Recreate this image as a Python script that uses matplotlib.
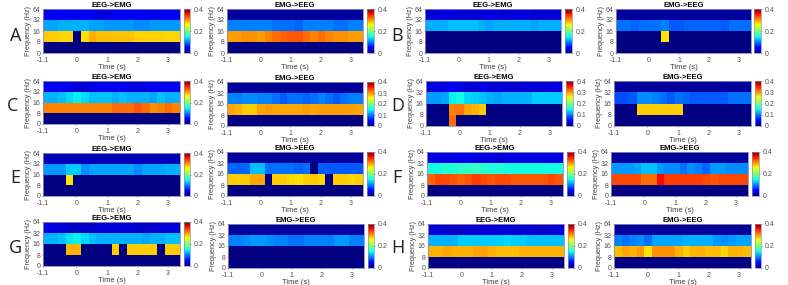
import numpy as np
import matplotlib
matplotlib.use('Agg')
import matplotlib.pyplot as plt

plt.rcParams['font.family'] = ['Liberation Sans', 'DejaVu Sans']

W, H = 788, 285

# time bin edges and frequency labels shared by all panels
time_edges = [-1.1, -0.85, -0.6, -0.35, -0.1, 0.15, 0.4, 0.65, 0.9, 1.15, 1.4, 1.65, 1.9, 2.15, 2.4, 2.65, 2.9, 3.15, 3.4]
time_ticks = [-1.1, 0, 1, 2, 3]
time_labels = ['-1.1', '0', '1', '2', '3']
freq_labels = ['0', '8', '16', '32', '64']
zeros = [0] * 18

# rows of each panel, low frequency first: 0-8, 8-16, 16-32, 32-64
a_l_band = [.278, .278, .272, .272, 0, .27, .29, .284, .284, .28, .28, .28, .274, .274, .274, .274, .272, .272]
a_l_mid = [.115, .115, .12, .12, .12, .12, .115, .115, .11, .11, .11, .11, .105, .105, .11, .11, .11, .11]
a_l_top = [.04, .04, .045, .04, .04, .04, .04, .035, .035, .04, .04, .04, .04, .04, .035, .04, .04, .04]
a_r_band = [.298, .298, .303, .303, .298, .308, .318, .323, .328, .328, .318, .308, .318, .308, .303, .303, .298, .298]
a_r_mid = [.10, .10, .10, .10, .10, .10, .095, .095, .095, .09, .10, .10, .10, .10, .095, .095, .10, .10]
a_r_top = [.01] * 18

b_l_band = zeros
b_l_mid = [.12, .12, .12, .125, .125, .125, .125, .12, .115, .12, .12, .12, .12, .12, .115, .12, .12, .12]
b_l_top = [.03, .03, .035, .035, .03, .03, .03, .03, .035, .035, .03, .03, .035, .035, .03, .03, .03, .03]
b_r_band = [0, 0, 0, 0, 0, 0, .268, 0, 0, 0, 0, 0, 0, 0, 0, 0, 0, 0]
b_r_mid = [.095, .095, .09, .095, .095, .095, .10, .085, .085, .09, .09, .09, .09, .09, .085, .095, .095, .095]
b_r_top = [.01] * 18

c_l_band = [.308, .308, .308, .308, .308, .308, .308, .308, .308, .318, .318, .318, .328, .318, .303, .308, .318, .308]
c_l_mid = [.12, .12, .125, .135, .145, .135, .125, .125, .125, .12, .125, .12, .12, .12, .115, .125, .12, .12]
c_l_top = [.04, .04, .04, .035, .03, .03, .035, .04, .04, .04, .04, .035, .035, .035, .04, .04, .04, .04]
c_r_band = [.293, .288, .278, .278, .293, .298, .293, .293, .293, .293, .298, .293, .298, .298, .298, .298, .298, .293]
c_r_mid = [.10, .10, .105, .105, .10, .10, .095, .085, .095, .095, .09, .095, .10, .095, .085, .095, .10, .10]
c_r_top = [.01] * 18

d_l_low = [0, 0, 0, .318, 0, 0, 0, 0, 0, 0, 0, 0, 0, 0, 0, 0, 0, 0]
d_l_band = [0, 0, 0, .308, .313, .293, .288, .278, 0, 0, 0, 0, 0, 0, 0, 0, 0, 0]
d_l_mid = [.11, .11, .115, .145, .15, .135, .13, .125, .12, .115, .12, .12, .12, .12, .13, .13, .13, .13]
d_l_top = [.03, .035, .035, .04, .035, .03, .03, .035, .03, .03, .03, .025, .03, .03, .03, .03, .035, .035]
d_r_band = [0, 0, 0, .278, .278, .278, .278, .278, .278, 0, 0, 0, 0, 0, 0, 0, 0, 0]
d_r_mid = [.08, .08, .085, .105, .105, .10, .095, .085, .095, .09, .085, .085, .085, .085, .085, .095, .095, .095]
d_r_top = [.01] * 18

e_l_band = [0, 0, 0, .268, 0, 0, 0, 0, 0, 0, 0, 0, 0, 0, 0, 0, 0, 0]
e_l_mid = [.11, .11, .11, .13, .13, .105, .115, .115, .115, .115, .115, .115, .105, .115, .115, .115, .12, .12]
e_l_top = [.02] * 18
e_r_band = [.278, .278, .278, .293, .293, 0, .278, .278, .273, .268, .278, .278, .273, 0, .278, .278, .273, .278]
e_r_mid = [.09, .09, .09, .125, .125, .095, .095, .095, .095, .09, .095, 0, .085, .085, .085, .085, .085, .085]
e_r_top = [.01] * 18

f_l_band = [.323, .333, .333, .328, .323, .328, .338, .333, .328, .333, .333, .328, .328, .328, .328, .328, .333, .328]
f_l_mid = [.15, .15, .155, .155, .16, .165, .165, .16, .155, .155, .15, .15, .15, .15, .15, .15, .15, .15]
f_l_top = [.035, .035, .035, .035, .04, .04, .035, .035, .035, .03, .035, .035, .035, .035, .035, .035, .035, .035]
f_r_band = [.333, .333, .333, .333, .318, .318, .358, .338, .338, .338, .338, .338, .333, .328, .333, .333, .333, .333]
f_r_mid = [.11, .11, .11, .115, .125, .125, .11, .105, .105, .095, .105, .10, .09, .11, .11, .105, .105, .105]
f_r_top = [.01] * 18

g_l_band = [0, 0, 0, .288, .288, 0, 0, 0, 0, .278, 0, .278, .278, .278, .278, 0, .278, .278]
g_l_mid = [.12, .12, .125, .14, .145, .135, .125, .12, .12, .12, .12, .12, .12, .115, .12, .12, .125, .125]
g_l_top = [.035, .035, .03, .025, .025, .025, .025, .03, .03, .03, .03, .03, .025, .025, .025, .03, .03, .03]
g_r_band = zeros
g_r_mid = [.10, .10, .105, .11, .11, .105, .10, .10, .095, .095, .10, .10, .10, .10, .11, .11, .10, .10]
g_r_top = [.01] * 18

h_l_band = [.288, .288, .293, .288, .288, .288, .293, .296, .288, .283, .283, .283, .288, .288, .288, .288, .288, .288]
h_l_mid = [.12, .12, .12, .12, .13, .13, .13, .13, .13, .13, .135, .13, .13, .125, .125, .125, .125, .125]
h_l_top = [.03, .03, .025, .025, .025, .03, .03, .03, .03, .03, .03, .03, .03, .03, .025, .025, .03, .03]
h_r_band = [.283, .293, .288, .298, .268, .303, .303, .303, .288, .278, .288, .288, .283, .283, .273, .288, .288, .283]
h_r_mid = [.10, .095, .10, .105, .095, .115, .115, .115, .115, .12, .12, .12, .12, .11, .105, .11, .115, .115]
h_r_top = [.01] * 18

# title, pixel box (left, right, top, bottom), colorbar pixel span, colorbar ticks, rows
full = [0, .2, .4]
fine = [0, .1, .2, .3, .4]
panels = [
    ('EEG->EMG', (43, 180, 9, 53), (184, 190), full, zeros, a_l_band, a_l_mid, a_l_top),
    ('EMG->EEG', (227, 363, 9, 53), (367, 374), full, zeros, a_r_band, a_r_mid, a_r_top),
    ('EEG->EMG', (425, 561, 9, 53), (565, 572), full, zeros, b_l_band, b_l_mid, b_l_top),
    ('EMG->EEG', (616, 751, 9, 53), (754, 761), full, zeros, b_r_band, b_r_mid, b_r_top),
    ('EEG->EMG', (43, 180, 81, 124), (184, 190), full, zeros, c_l_band, c_l_mid, c_l_top),
    ('EMG->EEG', (227, 363, 82, 126), (367, 374), fine, zeros, c_r_band, c_r_mid, c_r_top),
    ('EEG->EMG', (426, 562, 81, 126), (566, 573), fine, d_l_low, d_l_band, d_l_mid, d_l_top),
    ('EMG->EEG', (614, 751, 81, 126), (755, 761), fine, zeros, d_r_band, d_r_mid, d_r_top),
    ('EEG->EMG', (43, 180, 153, 196), (184, 190), full, zeros, e_l_band, e_l_mid, e_l_top),
    ('EMG->EEG', (227, 363, 152, 196), (367, 374), full, zeros, e_r_band, e_r_mid, e_r_top),
    ('EEG->EMG', (427, 563, 152, 196), (567, 574), full, zeros, f_l_band, f_l_mid, f_l_top),
    ('EMG->EEG', (611, 748, 152, 196), (752, 759), full, zeros, f_r_band, f_r_mid, f_r_top),
    ('EEG->EMG', (43, 180, 222, 266), (184, 190), full, zeros, g_l_band, g_l_mid, g_l_top),
    ('EMG->EEG', (228, 364, 224, 268), (368, 374), full, zeros, g_r_band, g_r_mid, g_r_top),
    ('EEG->EMG', (428, 564, 224, 268), (568, 574), full, zeros, h_l_band, h_l_mid, h_l_top),
    ('EMG->EEG', (614, 751, 224, 268), (755, 761), full, zeros, h_r_band, h_r_mid, h_r_top),
]

letters = ['A', 'B', 'C', 'D', 'E', 'F', 'G', 'H']
letter_x = [16, 397, 13, 398, 15, 397, 15, 398]
letter_y = [36, 36, 106, 106, 178, 178, 248, 248]

edge = '#8f8fb0'
fig = plt.figure(figsize=(W / 100, H / 100), dpi=100)


def px_axes(l, r, t, b):
    return fig.add_axes([l / W, 1 - b / H, (r - l) / W, (b - t) / H])


for title, (l, r, t, b), (c0, c1), cticks, low, band, mid, top in panels:
    ax = px_axes(l, r, t, b)
    grid = np.array([low, band, mid, top])
    mesh = ax.pcolormesh(time_edges, range(5), grid, cmap='jet', vmin=0, vmax=.4)
    ax.set_xlim(-1.1, 3.4)
    ax.set_ylim(0, 4)
    ax.set_xticks(time_ticks, time_labels)
    ax.set_yticks(range(5), freq_labels)
    ax.tick_params(labelsize=5, length=1, width=.4, pad=1, colors='#505050')
    ax.tick_params(axis='x', pad=1.8)
    ax.set_xlabel('Time (s)', fontsize=5.5, labelpad=0, color='#404040')
    ax.set_ylabel('Frequency (Hz)', fontsize=5.2, labelpad=0, color='#404040')
    ax.set_title(title, fontsize=5.5, fontweight='bold', pad=1.5)
    for s in ax.spines.values():
        s.set_color(edge)
        s.set_linewidth(.6)

    cax = px_axes(c0, c1, t, b)
    cb = fig.colorbar(mesh, cax=cax, ticks=cticks)
    cb.ax.set_yticklabels(['0' if v == 0 else f'{v:g}' for v in cticks])
    cb.ax.tick_params(labelsize=5, length=1, width=.4, pad=1.5, colors='#505050')
    cb.outline.set_edgecolor(edge)
    cb.outline.set_linewidth(.5)

for name, x, y in zip(letters, letter_x, letter_y):
    fig.text(x / W, 1 - y / H, name, fontsize=13, family='Open Sans', ha='center', va='center', color='#202020')

fig.savefig('out.png', dpi=100)
